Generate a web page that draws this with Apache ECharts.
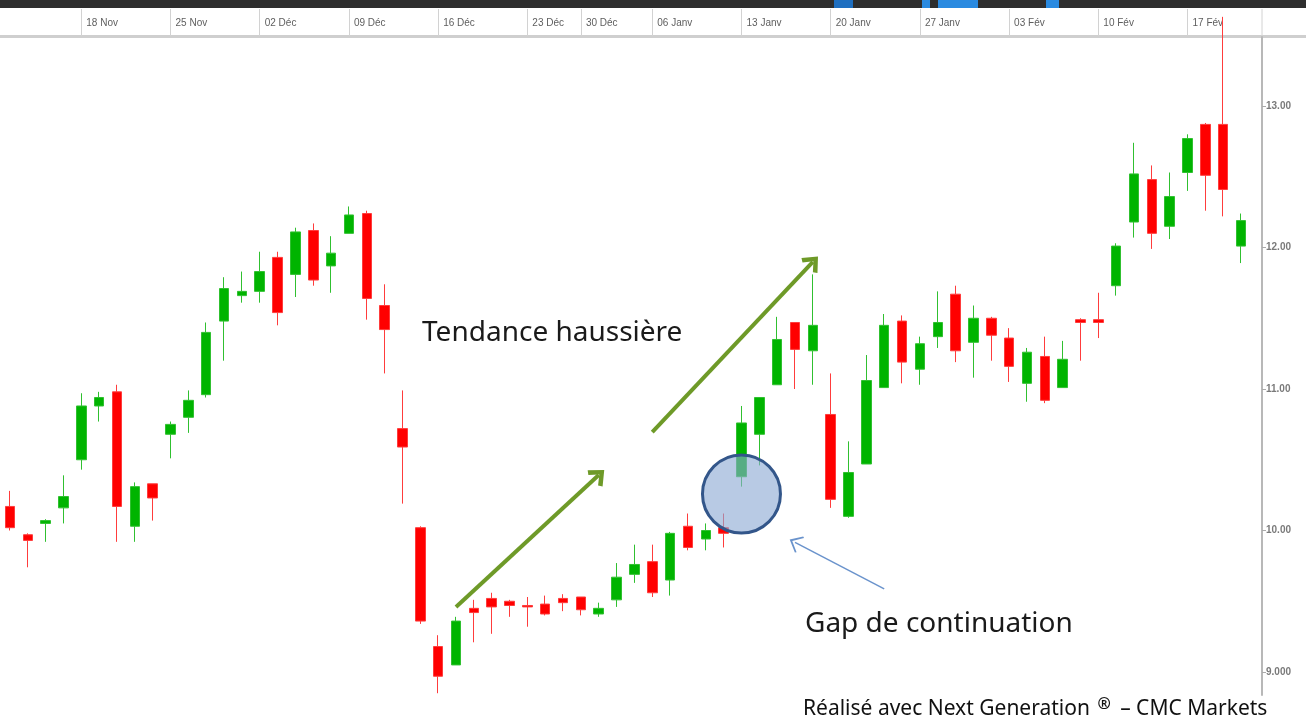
<!DOCTYPE html>
<html>
<head>
<meta charset="utf-8">
<title>Gap de continuation</title>
<script src="https://cdn.jsdelivr.net/npm/echarts@6/dist/echarts.min.js"></script>
<style>
  html, body { margin: 0; padding: 0; background: #fff; }
  #chart { width: 1306px; height: 724px; }
</style>
</head>
<body>
<div id="chart"></div>
<script>
// séances (une par bougie)
const dates = [
  '12 Nov', '13 Nov', '14 Nov', '15 Nov',
  '18 Nov', '19 Nov', '20 Nov', '21 Nov', '22 Nov',
  '25 Nov', '26 Nov', '27 Nov', '28 Nov', '29 Nov',
  '02 Déc', '03 Déc', '04 Déc', '05 Déc', '06 Déc',
  '09 Déc', '10 Déc', '11 Déc', '12 Déc', '13 Déc',
  '16 Déc', '17 Déc', '18 Déc', '19 Déc', '20 Déc',
  '23 Déc', '24 Déc', '27 Déc',
  '30 Déc', '31 Déc', '02 Janv', '03 Janv',
  '06 Janv', '07 Janv', '08 Janv', '09 Janv', '10 Janv',
  '13 Janv', '14 Janv', '15 Janv', '16 Janv', '17 Janv',
  '20 Janv', '21 Janv', '22 Janv', '23 Janv', '24 Janv',
  '27 Janv', '28 Janv', '29 Janv', '30 Janv', '31 Janv',
  '03 Fév', '04 Fév', '05 Fév', '06 Fév', '07 Fév',
  '10 Fév', '11 Fév', '12 Fév', '13 Fév', '14 Fév',
  '17 Fév', '18 Fév', '19 Fév', '20 Fév'
]

// libellés de semaine affichés dans le bandeau du haut
const weekLabels = ['18 Nov', '25 Nov', '02 Déc', '09 Déc', '16 Déc', '23 Déc', '30 Déc',
  '06 Janv', '13 Janv', '20 Janv', '27 Janv', '03 Fév', '10 Fév', '17 Fév']

const opens = [10.17, 9.97, 10.05, 10.16, 10.50, 10.88, 10.98, 10.03, 10.33, 10.68,
  10.80, 10.96, 11.48, 11.66, 11.69, 11.93, 11.81, 12.12, 11.87, 12.10,
  12.24, 11.59, 10.72, 10.02, 9.18, 9.05, 9.45, 9.52, 9.50, 9.47,
  9.48, 9.52, 9.53, 9.41, 9.51, 9.69, 9.78, 9.65, 10.03, 9.94,
  10.02, 10.38, 10.68, 11.03, 11.47, 11.27, 10.82, 10.10, 10.47, 11.01,
  11.48, 11.14, 11.37, 11.67, 11.33, 11.50, 11.36, 11.04, 11.23, 11.01,
  11.49, 11.49, 11.73, 12.18, 12.48, 12.15, 12.53, 12.87, 12.87, 12.01]

const closes = [10.02, 9.93, 10.07, 10.24, 10.88, 10.94, 10.17, 10.31, 10.23, 10.75,
  10.92, 11.40, 11.71, 11.69, 11.83, 11.54, 12.11, 11.77, 11.96, 12.23,
  11.64, 11.42, 10.59, 9.36, 8.97, 9.36, 9.42, 9.46, 9.47, 9.46,
  9.41, 9.49, 9.44, 9.45, 9.67, 9.76, 9.56, 9.98, 9.88, 10.00,
  9.98, 10.76, 10.94, 11.35, 11.28, 11.45, 10.22, 10.41, 11.06, 11.45,
  11.19, 11.32, 11.47, 11.27, 11.50, 11.38, 11.16, 11.26, 10.92, 11.21,
  11.47, 11.47, 12.01, 12.52, 12.10, 12.36, 12.77, 12.51, 12.41, 12.19]

const lows = [10.00, 9.74, 9.92, 10.05, 10.43, 10.77, 9.92, 9.92, 10.07, 10.51,
  10.69, 10.94, 11.20, 11.61, 11.61, 11.45, 11.65, 11.73, 11.68, 12.10,
  11.49, 11.11, 10.19, 9.34, 8.85, 9.05, 9.21, 9.27, 9.39, 9.32,
  9.40, 9.43, 9.40, 9.39, 9.46, 9.63, 9.53, 9.54, 9.86, 9.86,
  9.88, 10.31, 10.46, 11.03, 11.00, 11.03, 10.16, 10.09, 10.47, 11.01,
  11.04, 11.03, 11.29, 11.19, 11.08, 11.20, 11.05, 10.91, 10.90, 11.01,
  11.20, 11.36, 11.66, 12.07, 11.99, 12.06, 12.40, 12.26, 12.22, 11.89]

const highs = [10.28, 9.98, 10.08, 10.39, 10.97, 10.98, 11.03, 10.34, 10.33, 10.77,
  10.99, 11.47, 11.79, 11.83, 11.97, 11.97, 12.14, 12.17, 12.08, 12.29,
  12.26, 11.74, 10.99, 10.03, 9.26, 9.39, 9.51, 9.56, 9.51, 9.53,
  9.54, 9.55, 9.53, 9.49, 9.77, 9.90, 9.90, 9.99, 10.12, 10.05,
  10.12, 10.88, 10.94, 11.51, 11.47, 11.81, 11.11, 10.63, 11.24, 11.53,
  11.52, 11.37, 11.69, 11.73, 11.59, 11.51, 11.43, 11.29, 11.37, 11.34,
  11.50, 11.68, 12.03, 12.74, 12.58, 12.53, 12.80, 12.88, 13.63, 12.24]

const yTicks = [9, 10, 11, 12, 13]
const yTickLabels = ['9.000', '10.00', '11.00', '12.00', '13.00']

// annotations, en coordonnées du graphique [indice de séance, cours]
const trendArrows = [
  [[25.12, 9.459], [32.96, 10.392]],
  [[35.71, 10.696], [44.96, 11.898]]
]
const gapPointer = [[48.54, 9.587], [43.80, 9.916]]
const gapCircle = [41.04, 10.258]

const candles = dates.map((d, i) => [opens[i], closes[i], lows[i], highs[i]])
const isWeekStart = (index, value) => weekLabels.indexOf(value) !== -1

const chart = echarts.init(document.getElementById('chart'))

const option = {
  animation: false,
  backgroundColor: '#fff',
  grid: [
    { left: 1, right: 56, top: 37, bottom: 29 },
    { left: 1, right: 56, top: 9, height: 27 }
  ],
  xAxis: [
    {
      type: 'category',
      data: dates,
      gridIndex: 0,
      boundaryGap: true,
      axisLine: { show: false },
      axisTick: { show: false },
      axisLabel: { show: false },
      splitLine: { show: false }
    },
    {
      type: 'category',
      data: dates,
      gridIndex: 1,
      boundaryGap: true,
      axisLine: { show: false },
      axisTick: {
        show: true,
        inside: true,
        alignWithLabel: true,
        length: 27,
        interval: isWeekStart,
        lineStyle: { color: '#d2d2d2', width: 1 }
      },
      axisLabel: {
        show: true,
        inside: true,
        interval: isWeekStart,
        align: 'left',
        padding: [0, 0, 0, 5],
        margin: 8,
        color: '#5e5e5e',
        fontSize: 10,
        fontFamily: '"Liberation Sans Narrow", "Liberation Sans", Arial, sans-serif'
      }
    }
  ],
  yAxis: [
    {
      type: 'value',
      gridIndex: 0,
      position: 'right',
      offset: 12,
      min: 8.8375,
      max: 13.4876,
      axisLine: { show: true, lineStyle: { color: '#b8b8b8', width: 2 } },
      axisTick: {
        show: true,
        customValues: yTicks,
        length: 4,
        lineStyle: { color: '#aaa' }
      },
      axisLabel: {
        show: true,
        customValues: yTicks,
        margin: 4,
        color: '#7a7a7a',
        fontSize: 10,
        fontWeight: 'bold',
        fontFamily: '"Liberation Sans", Arial, sans-serif',
        formatter: (v) => yTickLabels[yTicks.indexOf(Math.round(v))] || ''
      },
      splitLine: { show: false }
    },
    { type: 'value', gridIndex: 1, show: false }
  ],
  series: [
    {
      type: 'candlestick',
      xAxisIndex: 0,
      yAxisIndex: 0,
      data: candles,
      barWidth: 10,
      clip: false,
      itemStyle: {
        color: '#00b400',
        color0: '#ff0000',
        borderColor: '#30c030',
        borderColor0: '#ff3c3c',
        borderWidth: 1
      },
      markLine: {
        silent: true,
        animation: false,
        label: { show: false },
        emphasis: { disabled: true },
        data: [
          ...trendArrows.map(a => [
            { coord: a[0], symbol: 'none', lineStyle: { color: '#6e9a28', width: 4, type: 'solid' } },
            { coord: a[1], symbol: 'path://M10 0 L20 12 L16.5 14.5 L10 6.5 L3.5 14.5 L0 12 Z', symbolSize: [22, 15] }
          ]),
          [
            { coord: gapPointer[0], symbol: 'none', lineStyle: { color: '#6a93cc', width: 1.5, type: 'solid' } },
            { coord: gapPointer[1], symbol: 'path://M10 0 L20 11 L19 12.5 L10 3 L1 12.5 L0 11 Z', symbolSize: [18, 12] }
          ]
        ]
      },
      markPoint: {
        silent: true,
        animation: false,
        label: { show: false },
        data: [
          {
            coord: gapCircle,
            symbol: 'circle',
            symbolSize: 78,
            itemStyle: {
              color: 'rgba(140, 170, 212, 0.62)',
              borderColor: '#33568a',
              borderWidth: 3
            }
          }
        ]
      }
    }
  ],
  graphic: [
    { type: 'rect', z: -10, shape: { x: 0, y: 0, width: 1306, height: 8 }, style: { fill: '#2e2e2e' } },
    { type: 'rect', z: -9, shape: { x: 834, y: 0, width: 19, height: 8 }, style: { fill: '#1f6fc0' } },
    { type: 'rect', z: -9, shape: { x: 922, y: 0, width: 8, height: 8 }, style: { fill: '#2a8ae0' } },
    { type: 'rect', z: -9, shape: { x: 938, y: 0, width: 40, height: 8 }, style: { fill: '#2a8ae0' } },
    { type: 'rect', z: -9, shape: { x: 1046, y: 0, width: 13, height: 8 }, style: { fill: '#2a8ae0' } },
    { type: 'rect', z: -10, shape: { x: 0, y: 35, width: 1306, height: 3 }, style: { fill: '#cfcfcf' } },
    { type: 'line', z: -10, shape: { x1: 1262, y1: 9, x2: 1262, y2: 36 }, style: { stroke: '#d2d2d2', lineWidth: 1 } },
    {
      type: 'text', left: 422, top: 319,
      style: { text: 'Tendance haussière', fill: '#1a1a1a', font: '28px "Noto Sans", "Open Sans", sans-serif' }
    },
    {
      type: 'text', left: 805, top: 610,
      style: { text: 'Gap de continuation', fill: '#1a1a1a', font: '28px "Noto Sans", "Open Sans", sans-serif' }
    },
    {
      type: 'text', left: 803, top: 696,
      style: {
        text: '{a|Réalisé avec Next Generation }{r|®}{a| – CMC Markets}',
        rich: {
          a: { fontSize: 21, fontFamily: '"Noto Sans", "Open Sans", sans-serif', fill: '#111' },
          r: { fontSize: 16, fontWeight: 'bold', fontFamily: '"Noto Sans", sans-serif', fill: '#111', padding: [0, 4, 11, 2] }
        }
      }
    }
  ]
}

chart.setOption(option)

window.addEventListener('resize', () => chart.resize())
</script>
</body>
</html>
